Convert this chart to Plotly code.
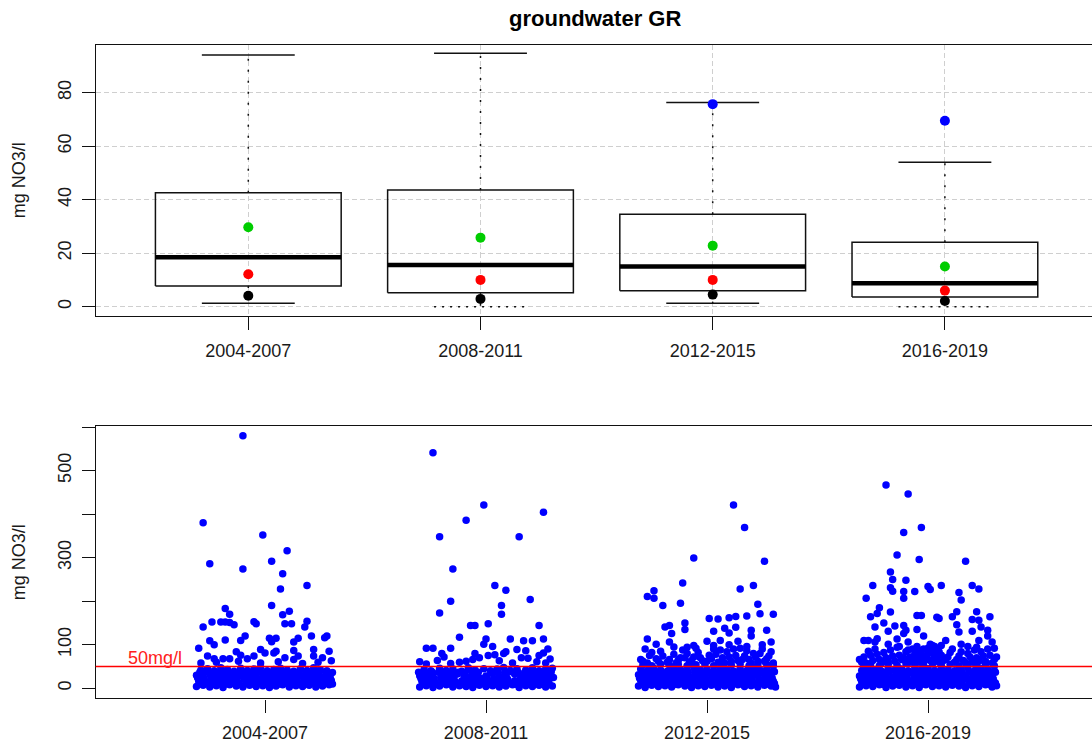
import plotly.graph_objects as go

# ---------------- data ----------------
categories = ["2004-2007", "2008-2011", "2012-2015", "2016-2019"]

# boxplot statistics (mg NO3/l)
box_q1 = [7.7, 5.2, 5.9, 3.6]
box_median = [18.5, 15.6, 15.0, 8.7]
box_q3 = [42.6, 43.6, 34.5, 24.1]
whisker_low = [1.3, 0.0, 1.3, 0.0]
whisker_high = [94.1, 94.7, 76.3, 54.0]

# extra summary points drawn on the boxes
stat_green = [29.7, 25.8, 22.8, 15.0]
stat_red = [12.1, 10.0, 10.0, 6.0]
stat_black = [4.1, 2.9, 4.5, 2.1]
stat_blue = [None, None, 75.7, 69.5]

top_yticks = [0, 20, 40, 60, 80]
bottom_yticks = [0, 100, 200, 300, 400, 500, 600]
bottom_ytick_labels = ["0", "100", "", "300", "", "500", ""]

limit_value = 50
limit_label = "50mg/l"
limit_label_pos = 0.5

# individual samples: (jitter within category, value)
g1_points = [
    (-0.10, 580), (-0.28, 380), (-0.25, 286), (-0.10, 274), (-0.01, 352), (0.03, 292), (0.10, 316),
    (0.08, 263), (0.07, 228), (0.19, 236), (0.03, 190), (-0.18, 183), (-0.16, 170), (-0.28, 141),
    (-0.24, 152), (-0.20, 152), (-0.18, 152), (-0.16, 151), (-0.14, 146), (-0.05, 153), (-0.04, 148),
    (0.08, 169), (0.11, 177), (0.09, 148), (0.12, 148), (0.19, 154), (0.18, 141), (0.21, 120),
    (0.27, 116), (0.28, 120), (0.15, 115), (0.13, 106), (-0.09, 120), (-0.11, 110), (0.02, 115),
    (0.05, 115), (0.03, 107), (-0.18, 111), (-0.25, 109), (-0.23, 100), (-0.30, 92), (-0.26, 74),
    (-0.23, 68), (-0.19, 68), (-0.16, 68), (-0.13, 84), (-0.11, 76), (-0.08, 68), (-0.05, 74),
    (-0.02, 89), (0.00, 81), (0.04, 81), (0.05, 85), (0.09, 70), (0.13, 66), (0.13, 87), (0.22, 89),
    (0.22, 74), (0.29, 85), (0.26, 70), (0.15, 74), (-0.29, 58), (-0.22, 60), (-0.12, 62),
    (-0.02, 58), (0.06, 61), (0.17, 57), (0.24, 60), (0.30, 63),
]
g1_band = [
    (-0.31, 4), (-0.28, 7), (-0.25, 3), (-0.22, 6), (-0.19, 2), (-0.16, 8), (-0.13, 5), (-0.10, 3),
    (-0.07, 7), (-0.04, 4), (-0.01, 6), (0.02, 2), (0.05, 5), (0.08, 8), (0.11, 3), (0.14, 6),
    (0.17, 4), (0.20, 7), (0.23, 3), (0.26, 5), (0.29, 8),
    (-0.30, 17), (-0.27, 14), (-0.24, 19), (-0.21, 15), (-0.18, 21), (-0.15, 16), (-0.12, 13),
    (-0.09, 20), (-0.06, 17), (-0.03, 15), (0.00, 19), (0.03, 14), (0.06, 18), (0.09, 21),
    (0.12, 16), (0.15, 13), (0.18, 19), (0.21, 17), (0.24, 15), (0.27, 20), (0.30, 18),
    (-0.31, 30), (-0.28, 27), (-0.25, 33), (-0.22, 29), (-0.19, 26), (-0.16, 32), (-0.13, 28),
    (-0.10, 31), (-0.07, 27), (-0.04, 34), (-0.01, 29), (0.02, 26), (0.05, 32), (0.08, 30),
    (0.11, 28), (0.14, 33), (0.17, 27), (0.20, 31), (0.23, 29), (0.26, 26), (0.29, 32),
    (-0.29, 42), (-0.26, 45), (-0.23, 40), (-0.20, 47), (-0.17, 43), (-0.14, 39), (-0.11, 46),
    (-0.08, 41), (-0.05, 44), (-0.02, 48), (0.01, 40), (0.04, 43), (0.07, 46), (0.10, 42),
    (0.13, 39), (0.16, 45), (0.19, 41), (0.22, 47), (0.25, 43), (0.28, 40),
    (-0.295, 10), (-0.265, 12), (-0.235, 9), (-0.205, 11), (-0.175, 10), (-0.145, 12), (-0.115, 9),
    (-0.085, 11), (-0.055, 10), (-0.025, 12), (0.005, 9), (0.035, 11), (0.065, 10), (0.095, 12),
    (0.125, 9), (0.155, 11), (0.185, 10), (0.215, 12), (0.245, 9), (0.275, 11), (0.305, 10),
    (-0.305, 24), (-0.275, 22), (-0.245, 25), (-0.215, 23), (-0.185, 24), (-0.155, 22), (-0.125, 25),
    (-0.095, 23), (-0.065, 24), (-0.035, 22), (-0.005, 25), (0.025, 23), (0.055, 24), (0.085, 22),
    (0.115, 25), (0.145, 23), (0.175, 24), (0.205, 22), (0.235, 25), (0.265, 23), (0.295, 24),
    (-0.295, 37), (-0.265, 38), (-0.235, 36), (-0.205, 38), (-0.175, 37), (-0.145, 36), (-0.115, 38),
    (-0.085, 37), (-0.055, 36), (-0.025, 38), (0.005, 37), (0.035, 36), (0.065, 38), (0.095, 37),
    (0.125, 36), (0.155, 38), (0.185, 37), (0.215, 36), (0.245, 38), (0.275, 37), (0.305, 36),
]

g2_points = [
    (-0.24, 541), (-0.01, 421), (0.26, 404), (-0.09, 386), (-0.21, 348), (0.15, 348), (-0.15, 274),
    (0.04, 236), (0.09, 225), (-0.16, 200), (0.20, 204), (0.07, 190), (0.07, 170), (-0.21, 173),
    (-0.07, 144), (-0.05, 144), (0.01, 148), (0.24, 144), (-0.12, 117), (-0.27, 92), (-0.24, 92),
    (-0.16, 92), (0.00, 113), (-0.01, 101), (0.03, 96), (0.11, 113), (0.14, 89), (0.17, 109),
    (0.21, 109), (0.26, 113), (0.28, 90), (-0.30, 61), (-0.27, 56), (-0.20, 80), (-0.19, 72),
    (-0.09, 62), (-0.05, 80), (-0.03, 70), (0.01, 75), (0.04, 77), (0.08, 80), (0.09, 84),
    (0.18, 86), (0.19, 69), (0.24, 75), (0.26, 81), (0.29, 67), (-0.16, 57), (-0.12, 60),
    (0.12, 58), (0.23, 61), (-0.22, 64), (-0.06, 66), (0.06, 63), (0.16, 70), (0.27, 58),
]
g2_band = [
    (-0.30, 3), (-0.27, 6), (-0.24, 2), (-0.21, 5), (-0.18, 8), (-0.15, 3), (-0.12, 6), (-0.09, 4),
    (-0.06, 2), (-0.03, 7), (0.00, 4), (0.03, 6), (0.06, 3), (0.09, 5), (0.12, 8), (0.15, 2),
    (0.18, 6), (0.21, 4), (0.24, 7), (0.27, 3), (0.30, 5),
    (-0.29, 16), (-0.26, 19), (-0.23, 14), (-0.20, 18), (-0.17, 21), (-0.14, 15), (-0.11, 17),
    (-0.08, 20), (-0.05, 14), (-0.02, 18), (0.01, 16), (0.04, 21), (0.07, 15), (0.10, 19),
    (0.13, 17), (0.16, 14), (0.19, 20), (0.22, 16), (0.25, 18), (0.28, 15),
    (-0.30, 29), (-0.27, 32), (-0.24, 27), (-0.20, 31), (-0.17, 28), (-0.13, 33), (-0.10, 29),
    (-0.07, 26), (-0.04, 31), (0.00, 28), (0.03, 34), (0.06, 27), (0.09, 30), (0.13, 32),
    (0.16, 26), (0.19, 29), (0.22, 33), (0.25, 28), (0.29, 31),
    (-0.28, 43), (-0.25, 40), (-0.21, 46), (-0.18, 41), (-0.15, 44), (-0.11, 39), (-0.08, 47),
    (-0.05, 42), (-0.01, 45), (0.02, 40), (0.05, 44), (0.08, 48), (0.11, 41), (0.14, 45),
    (0.18, 42), (0.21, 47), (0.24, 40), (0.27, 44), (0.30, 46),
    (-0.285, 10), (-0.255, 11), (-0.225, 9), (-0.195, 12), (-0.165, 10), (-0.135, 11), (-0.105, 9),
    (-0.075, 12), (-0.045, 10), (-0.015, 11), (0.015, 9), (0.045, 12), (0.075, 10), (0.105, 11),
    (0.135, 9), (0.165, 12), (0.195, 10), (0.225, 11), (0.255, 9), (0.285, 12),
    (-0.295, 23), (-0.265, 24), (-0.235, 22), (-0.205, 25), (-0.175, 23), (-0.145, 24),
    (-0.085, 22), (-0.055, 25), (-0.025, 23), (0.005, 24), (0.035, 22), (0.065, 25), (0.095, 23),
    (0.155, 22), (0.185, 25), (0.215, 23), (0.245, 24), (0.275, 22), (0.305, 25),
    (-0.305, 37), (-0.275, 36), (-0.245, 38), (-0.215, 37), (-0.185, 36), (-0.155, 38), (-0.125, 37),
    (-0.095, 36), (-0.065, 38), (-0.035, 37), (0.025, 38), (0.055, 37), (0.085, 36),
    (0.115, 38), (0.145, 37), (0.175, 36), (0.205, 38), (0.235, 37), (0.265, 36), (0.295, 38),
]

g3_points = [
    (0.12, 421), (0.17, 369), (-0.06, 299), (0.26, 292), (-0.11, 242), (0.15, 228), (0.21, 236),
    (-0.27, 211), (-0.24, 207), (-0.24, 224), (-0.20, 190), (-0.12, 195), (0.23, 193), (0.24, 171),
    (0.30, 170), (0.01, 160), (0.05, 159), (0.10, 162), (0.13, 165), (0.18, 166), (-0.19, 141),
    (-0.17, 144), (-0.16, 126), (-0.10, 150), (-0.10, 135), (0.03, 131), (0.08, 138), (0.10, 127),
    (0.13, 140), (0.20, 133), (0.20, 120), (0.27, 133), (-0.27, 113), (-0.23, 101), (-0.17, 106),
    (-0.15, 95), (-0.09, 94), (-0.06, 98), (0.00, 108), (0.03, 98), (0.06, 110), (0.10, 100),
    (0.14, 108), (0.18, 96), (0.25, 100), (0.29, 106),
    (-0.29, 62), (-0.26, 75), (-0.23, 68), (-0.21, 85), (-0.18, 60), (-0.15, 78), (-0.13, 65),
    (-0.11, 88), (-0.08, 58), (-0.06, 72), (-0.04, 82), (-0.02, 63), (0.01, 76), (0.03, 90),
    (0.05, 60), (0.07, 70), (0.09, 84), (0.11, 62), (0.13, 75), (0.16, 66), (0.18, 86), (0.20, 58),
    (0.22, 72), (0.24, 80), (0.26, 62), (0.28, 74), (0.30, 58), (-0.28, 90), (-0.10, 70), (0.15, 92),
    (-0.30, 66), (-0.27, 58), (-0.25, 82), (-0.22, 62), (-0.20, 74), (-0.17, 66), (-0.14, 58),
    (-0.12, 70), (-0.09, 80), (-0.07, 64), (-0.05, 92), (-0.03, 70), (0.00, 62), (0.02, 68),
    (0.04, 78), (0.06, 88), (0.08, 58), (0.10, 72), (0.12, 90), (0.14, 64), (0.17, 74), (0.19, 66),
    (0.21, 80), (0.23, 62), (0.25, 90), (0.27, 68), (0.29, 84),
]
g3_band = [
    (-0.31, 5), (-0.28, 2), (-0.25, 7), (-0.22, 4), (-0.19, 6), (-0.16, 3), (-0.13, 8), (-0.10, 5),
    (-0.07, 2), (-0.04, 6), (-0.01, 4), (0.02, 7), (0.05, 3), (0.08, 5), (0.11, 2), (0.14, 8),
    (0.17, 4), (0.20, 6), (0.23, 3), (0.26, 7), (0.29, 5), (0.31, 3),
    (-0.30, 18), (-0.27, 15), (-0.24, 20), (-0.21, 16), (-0.18, 14), (-0.15, 19), (-0.12, 17),
    (-0.09, 21), (-0.06, 15), (-0.03, 18), (0.00, 14), (0.03, 20), (0.06, 17), (0.09, 15),
    (0.12, 19), (0.15, 21), (0.18, 16), (0.21, 14), (0.24, 18), (0.27, 20), (0.30, 16),
    (-0.31, 31), (-0.28, 28), (-0.25, 26), (-0.22, 32), (-0.19, 29), (-0.16, 27), (-0.13, 33),
    (-0.10, 30), (-0.07, 26), (-0.04, 31), (-0.01, 28), (0.02, 33), (0.05, 29), (0.08, 26),
    (0.11, 31), (0.14, 28), (0.17, 32), (0.20, 27), (0.23, 30), (0.26, 33), (0.29, 28),
    (-0.30, 44), (-0.27, 41), (-0.24, 46), (-0.21, 42), (-0.18, 39), (-0.15, 45), (-0.12, 43),
    (-0.09, 40), (-0.06, 47), (-0.03, 42), (0.00, 44), (0.03, 40), (0.06, 46), (0.09, 43),
    (0.12, 39), (0.15, 45), (0.18, 41), (0.21, 47), (0.24, 42), (0.27, 44), (0.30, 40),
    (-0.29, 54), (-0.25, 52), (-0.21, 56), (-0.17, 53), (-0.13, 55), (-0.09, 52), (-0.05, 54),
    (-0.01, 56), (0.03, 52), (0.07, 55), (0.11, 53), (0.15, 56), (0.19, 52), (0.23, 54),
    (0.27, 55), (0.30, 52),
    (-0.295, 11), (-0.265, 9), (-0.235, 12), (-0.205, 10), (-0.175, 11), (-0.145, 9), (-0.115, 12),
    (-0.085, 10), (-0.055, 11), (-0.025, 9), (0.005, 12), (0.035, 10), (0.065, 11), (0.095, 9),
    (0.125, 12), (0.155, 10), (0.185, 11), (0.215, 9), (0.245, 12), (0.275, 10), (0.305, 11),
    (-0.305, 23), (-0.275, 25), (-0.245, 22), (-0.215, 24), (-0.185, 23), (-0.155, 25), (-0.125, 22),
    (-0.095, 24), (-0.065, 23), (-0.035, 25), (-0.005, 22), (0.025, 24), (0.055, 23), (0.085, 25),
    (0.115, 22), (0.145, 24), (0.175, 23), (0.205, 25), (0.235, 22), (0.265, 24), (0.295, 23),
    (-0.295, 36), (-0.265, 37), (-0.235, 38), (-0.205, 36), (-0.175, 37), (-0.145, 38), (-0.115, 36),
    (-0.085, 37), (-0.055, 38), (-0.025, 36), (0.005, 37), (0.035, 38), (0.065, 36), (0.095, 37),
    (0.125, 38), (0.155, 36), (0.185, 37), (0.215, 38), (0.245, 36), (0.275, 37), (0.305, 38),
]

g4_points = [
    (-0.19, 467), (-0.09, 446), (-0.03, 369), (-0.11, 358), (-0.14, 306), (-0.04, 296), (0.17, 292),
    (-0.17, 267), (-0.16, 250), (-0.10, 248), (-0.25, 236), (-0.17, 231), (-0.16, 223), (0.00, 234),
    (0.01, 227), (0.06, 236), (0.20, 236), (0.23, 228), (-0.11, 222), (-0.11, 207), (-0.06, 222),
    (0.14, 220), (0.15, 203), (-0.28, 207), (-0.22, 185), (-0.23, 172), (-0.26, 164), (-0.17, 175),
    (-0.05, 167), (-0.03, 167), (0.04, 163), (0.05, 160), (0.13, 176), (0.11, 164), (0.22, 176),
    (0.20, 158), (0.23, 156), (0.28, 164), (-0.24, 141), (-0.20, 150), (-0.18, 131), (-0.15, 143),
    (-0.11, 144), (-0.10, 133), (-0.05, 135), (-0.11, 126), (0.13, 146), (0.14, 129), (0.20, 131),
    (0.24, 141), (0.27, 133), (0.27, 120), (-0.29, 110), (-0.27, 110), (-0.23, 114), (-0.24, 106),
    (-0.18, 101), (-0.14, 113), (-0.13, 96), (-0.09, 106), (-0.02, 120), (0.01, 101), (0.02, 98),
    (0.06, 98), (0.08, 110), (0.15, 101), (0.18, 96), (0.23, 110), (0.22, 94), (0.29, 106),
    (0.30, 92),
    (-0.30, 60), (-0.29, 72), (-0.27, 85), (-0.25, 64), (-0.23, 78), (-0.21, 58), (-0.19, 70),
    (-0.17, 88), (-0.15, 62), (-0.13, 76), (-0.12, 66), (-0.10, 84), (-0.09, 58), (-0.08, 72),
    (-0.07, 90), (-0.06, 64), (-0.05, 80), (-0.04, 68), (-0.03, 86), (-0.02, 58), (-0.01, 74),
    (0.00, 92), (0.01, 64), (0.02, 80), (0.03, 70), (0.04, 88), (0.05, 60), (0.06, 76),
    (0.08, 66), (0.10, 82), (0.12, 60), (0.14, 74), (0.16, 64), (0.18, 80), (0.20, 60),
    (0.22, 70), (0.24, 84), (0.26, 62), (0.28, 76), (0.30, 66),
    (-0.31, 66), (-0.28, 58), (-0.26, 76), (-0.24, 90), (-0.22, 66), (-0.20, 82), (-0.18, 62),
    (-0.16, 74), (-0.14, 94), (-0.11, 70), (-0.09, 88), (-0.08, 62), (-0.06, 78), (-0.05, 96),
    (-0.04, 60), (-0.03, 74), (-0.02, 90), (-0.01, 66), (0.00, 80), (0.01, 88), (0.02, 62),
    (0.03, 96), (0.04, 72), (0.05, 84), (0.07, 64), (0.09, 72), (0.11, 90), (0.13, 66),
    (0.15, 84), (0.17, 58), (0.19, 72), (0.21, 88), (0.23, 62), (0.25, 74), (0.27, 90),
    (0.29, 58), (0.31, 72),
]
g4_band = [
    (-0.31, 3), (-0.28, 6), (-0.25, 4), (-0.22, 8), (-0.19, 2), (-0.16, 5), (-0.13, 7), (-0.10, 3),
    (-0.07, 6), (-0.04, 2), (-0.01, 8), (0.02, 4), (0.05, 6), (0.08, 3), (0.11, 7), (0.14, 5),
    (0.17, 2), (0.20, 6), (0.23, 4), (0.26, 8), (0.29, 3), (0.31, 6),
    (-0.30, 15), (-0.27, 19), (-0.24, 17), (-0.21, 14), (-0.18, 20), (-0.15, 16), (-0.12, 18),
    (-0.09, 14), (-0.06, 21), (-0.03, 17), (0.00, 15), (0.03, 19), (0.06, 16), (0.09, 20),
    (0.12, 14), (0.15, 18), (0.18, 21), (0.21, 15), (0.24, 17), (0.27, 19), (0.30, 14),
    (-0.31, 28), (-0.28, 31), (-0.25, 27), (-0.22, 33), (-0.19, 30), (-0.16, 26), (-0.13, 32),
    (-0.10, 29), (-0.07, 34), (-0.04, 27), (-0.01, 31), (0.02, 28), (0.05, 33), (0.08, 26),
    (0.11, 30), (0.14, 32), (0.17, 28), (0.20, 34), (0.23, 27), (0.26, 31), (0.29, 29),
    (-0.30, 41), (-0.27, 45), (-0.24, 43), (-0.21, 39), (-0.18, 46), (-0.15, 42), (-0.12, 44),
    (-0.09, 40), (-0.06, 47), (-0.03, 43), (0.00, 45), (0.03, 41), (0.06, 46), (0.09, 42),
    (0.12, 40), (0.15, 44), (0.18, 47), (0.21, 41), (0.24, 45), (0.27, 43), (0.30, 40),
    (-0.29, 53), (-0.26, 56), (-0.22, 52), (-0.18, 55), (-0.14, 53), (-0.10, 57), (-0.06, 54),
    (-0.02, 52), (0.02, 56), (0.06, 53), (0.10, 55), (0.14, 52), (0.18, 56), (0.22, 53),
    (0.26, 55), (0.30, 52),
    (-0.295, 10), (-0.265, 12), (-0.235, 11), (-0.205, 9), (-0.175, 12), (-0.145, 10), (-0.115, 11),
    (-0.085, 9), (-0.055, 12), (-0.025, 10), (0.005, 11), (0.035, 9), (0.065, 12), (0.095, 10),
    (0.125, 11), (0.155, 9), (0.185, 12), (0.215, 10), (0.245, 11), (0.275, 9), (0.305, 12),
    (-0.305, 22), (-0.275, 24), (-0.245, 23), (-0.215, 25), (-0.185, 22), (-0.155, 24), (-0.125, 23),
    (-0.095, 25), (-0.065, 22), (-0.035, 24), (-0.005, 23), (0.025, 25), (0.055, 22), (0.085, 24),
    (0.115, 23), (0.145, 25), (0.175, 22), (0.205, 24), (0.235, 23), (0.265, 25), (0.295, 22),
    (-0.295, 36), (-0.265, 38), (-0.235, 37), (-0.205, 36), (-0.175, 38), (-0.145, 37), (-0.115, 36),
    (-0.085, 38), (-0.055, 37), (-0.025, 36), (0.005, 38), (0.035, 37), (0.065, 36), (0.095, 38),
    (0.125, 37), (0.155, 36), (0.185, 38), (0.215, 37), (0.245, 36), (0.275, 38), (0.305, 37),
]

groups = [g1_points + g1_band, g2_points + g2_band, g3_points + g3_band, g4_points + g4_band]

# ---------------- styling ----------------
FONT = "Liberation Sans, Arial, sans-serif"
TXT = "#1a1a1a"
AX = "#111111"

fig = go.Figure()

# --- top panel: boxplots ---
for i in range(len(categories)):
    x = i + 1
    fig.add_trace(go.Scatter(
        x=[x - 0.4, x + 0.4, x + 0.4, x - 0.4, x - 0.4],
        y=[box_q1[i], box_q1[i], box_q3[i], box_q3[i], box_q1[i]],
        mode="lines", line=dict(color=AX, width=1.5), xaxis="x", yaxis="y", hoverinfo="skip"))
    fig.add_trace(go.Scatter(
        x=[x, x, None, x, x],
        y=[box_q3[i], whisker_high[i], None, box_q1[i], whisker_low[i]],
        mode="lines", line=dict(color=AX, width=1.5, dash="2px,9px"), xaxis="x", yaxis="y",
        hoverinfo="skip"))
    fig.add_trace(go.Scatter(
        x=[x - 0.4, x + 0.4], y=[box_median[i], box_median[i]],
        mode="lines", line=dict(color="black", width=4.5), xaxis="x", yaxis="y", hoverinfo="skip"))
    fig.add_trace(go.Scatter(
        x=[x - 0.2, x + 0.2], y=[whisker_high[i], whisker_high[i]],
        mode="lines", line=dict(color=AX, width=1.5), xaxis="x", yaxis="y", hoverinfo="skip"))
    low_dash = "solid" if whisker_low[i] > 0 else "2px,6px"
    fig.add_trace(go.Scatter(
        x=[x - 0.2, x + 0.2], y=[whisker_low[i], whisker_low[i]],
        mode="lines", line=dict(color=AX, width=1.5, dash=low_dash), xaxis="x", yaxis="y",
        hoverinfo="skip"))

xpos = [i + 1 for i in range(len(categories))]
for vals, col in [(stat_green, "#00cd00"), (stat_red, "#ff0000"), (stat_black, "#000000"),
                  (stat_blue, "#0000ff")]:
    fig.add_trace(go.Scatter(x=xpos, y=vals, mode="markers",
                             marker=dict(color=col, size=10), xaxis="x", yaxis="y",
                             hoverinfo="skip"))

# --- bottom panel: jittered samples ---
sx, sy = [], []
for i, pts in enumerate(groups):
    for j, v in pts:
        sx.append(i + 1 + j)
        sy.append(v)
fig.add_trace(go.Scatter(x=sx, y=sy, mode="markers",
                         marker=dict(color="#0000ff", size=7.5, line=dict(width=0)),
                         xaxis="x2", yaxis="y2", hoverinfo="skip"))

fig.add_shape(type="line", xref="x2 domain", x0=0, x1=1, yref="y2", y0=limit_value, y1=limit_value,
              line=dict(color="#ff0000", width=1.3), layer="above")
fig.add_annotation(x=limit_label_pos, y=limit_value, xref="x2", yref="y2", text=limit_label,
                   showarrow=False, xanchor="center", yanchor="bottom", yshift=-3,
                   font=dict(family=FONT, size=18, color="#ff2020"))

# titles
fig.add_annotation(x=594.5 / 1092, y=1 - 18 / 746, xref="paper", yref="paper",
                   text="<b>groundwater GR</b>", showarrow=False, xanchor="center", yanchor="middle",
                   font=dict(family=FONT, size=22, color="black"))
for yc in [1 - 180.25 / 746, 1 - 562.2 / 746]:
    fig.add_annotation(x=19 / 1092, y=yc, xref="paper", yref="paper", text="mg NO3/l",
                       textangle=-90, showarrow=False, xanchor="center", yanchor="middle",
                       font=dict(family=FONT, size=18, color=TXT))

xdom = [95.7 / 1092, 1.0]
common_axis = dict(showline=True, linecolor=AX, linewidth=1.4, ticks="outside", ticklen=13,
                   tickwidth=1.4, tickcolor=AX, zeroline=False,
                   tickfont=dict(family=FONT, size=18, color=TXT))

fig.update_layout(
    width=1092, height=746, margin=dict(l=0, r=0, t=0, b=0),
    paper_bgcolor="white", plot_bgcolor="white", showlegend=False,
    xaxis=dict(domain=xdom, anchor="y", range=[0.3428, 4.6335], tickmode="array",
               tickvals=xpos, ticktext=categories, mirror=True, showgrid=True,
               gridcolor="#cfcfcf", griddash="5px,3px", gridwidth=1, ticklabelstandoff=5,
               **common_axis),
    yaxis=dict(domain=[1 - 316 / 746, 1 - 44.5 / 746], anchor="x", range=[-3.5, 98.0],
               tickmode="array", tickvals=top_yticks, tickangle=-90, showgrid=True,
               gridcolor="#cfcfcf", griddash="5px,3px", gridwidth=1, ticklabelstandoff=3,
               **common_axis),
    xaxis2=dict(domain=xdom, anchor="y2", range=[0.2339, 4.742], tickmode="array",
                tickvals=xpos, ticktext=categories, mirror=True, showgrid=False,
                ticklabelstandoff=5, **common_axis),
    yaxis2=dict(domain=[1 - 698.3 / 746, 1 - 426 / 746], anchor="x2", range=[-23.0, 602.3],
                tickmode="array", tickvals=bottom_yticks, ticktext=bottom_ytick_labels,
                tickangle=-90, showgrid=False, ticklabelstandoff=3, **common_axis),
)

fig.write_html("out.html", config={"displayModeBar": False},
               post_script="document.body.style.margin='0';document.body.style.overflow='hidden';")
